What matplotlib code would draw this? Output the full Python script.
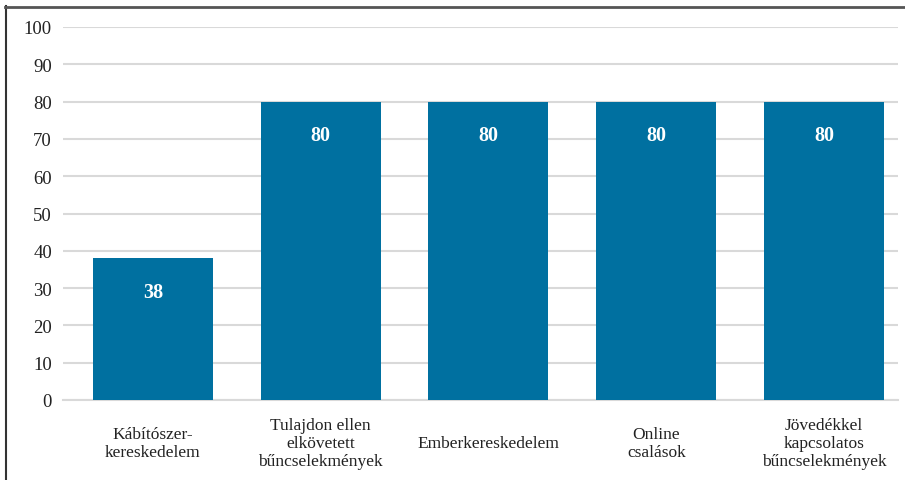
import matplotlib
matplotlib.use("Agg")
import matplotlib.pyplot as plt
from matplotlib.lines import Line2D

categories = ["Kábítószer-\nkereskedelem",
              "Tulajdon ellen\nelkövetett\nbűncselekmények",
              "Emberkereskedelem",
              "Online\ncsalások",
              "Jövedékkel\nkapcsolatos\nbűncselekmények"]
values = [38, 80, 80, 80, 80]
yticks = [0, 10, 20, 30, 40, 50, 60, 70, 80, 90, 100]

plt.rcParams['font.family'] = ['Liberation Serif', 'DejaVu Serif']

W, H = 905, 481
fig = plt.figure(figsize=(W/100, H/100), dpi=100)
ax = fig.add_axes([63/W, 1 - 401/H, (898-63)/W, (401-28)/H])

x = list(range(len(categories)))
bars = ax.bar(x, values, width=0.715, color='#0070a0', zorder=3)
ax.set_xlim(-0.535, 4.44)
ax.set_ylim(0, 100)
ax.set_yticks(yticks)
ax.set_yticklabels([str(t) for t in yticks], fontsize=13.5, color='#222222')
ax.grid(axis='y', color='#d9d9d9', linewidth=1.5, zorder=0)
ax.set_axisbelow(True)
for s in ['top', 'right', 'left']:
    ax.spines[s].set_visible(False)
ax.spines['bottom'].set_color('#d9d9d9')
ax.spines['bottom'].set_linewidth(1.5)
ax.tick_params(axis='both', length=0)
ax.tick_params(axis='y', pad=8)
ax.set_xticks(x)
ax.set_xticklabels(categories, fontsize=12.5, color='#222222', linespacing=1.15)
ax.tick_params(axis='x', pad=31)
for lab in ax.get_xticklabels():
    lab.set_verticalalignment('center')
    lab.set_horizontalalignment('center')

for xi, v in zip(x, values):
    ax.annotate(str(v), (xi, v), xytext=(0, -24), textcoords='offset points',
                ha='center', va='center', color='white', fontsize=14.5,
                fontweight='bold', zorder=4)

# frame lines (left and top)
fig.add_artist(Line2D([5.5/W, 5.5/W], [0, 1 - 7/H], transform=fig.transFigure,
                      color='#333333', linewidth=1.5))
fig.add_artist(Line2D([5/W, 1], [1 - 7.5/H, 1 - 7.5/H], transform=fig.transFigure,
                      color='#555555', linewidth=2))

fig.savefig("out.png", dpi=100)
